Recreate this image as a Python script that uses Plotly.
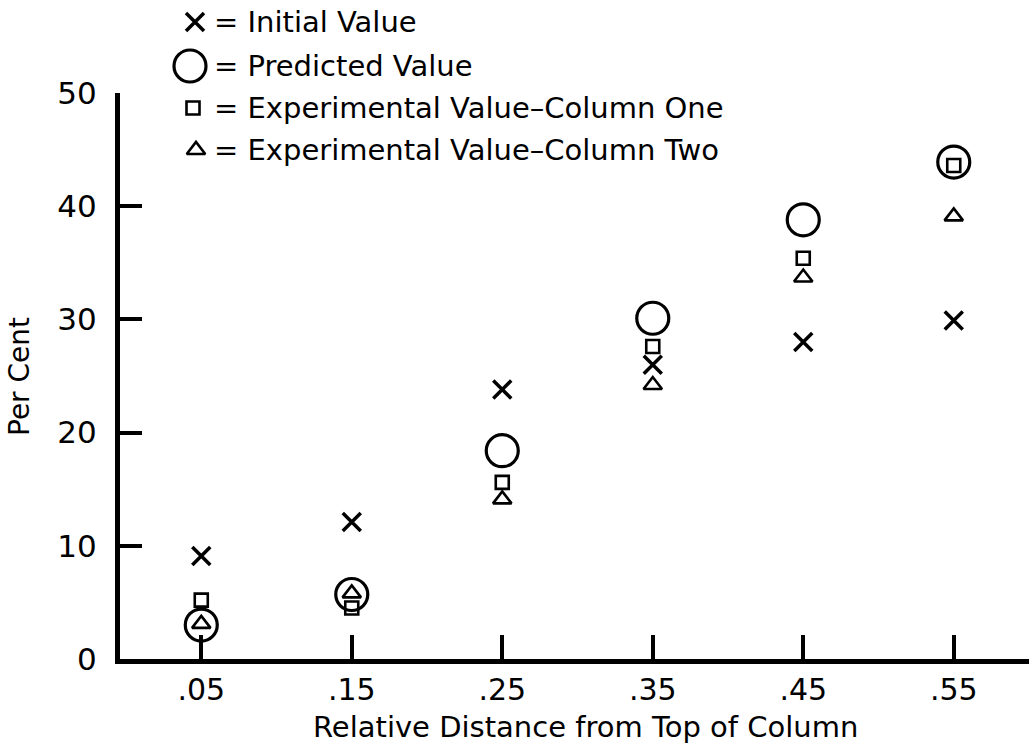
import plotly.graph_objects as go

# Relative distance from top of column and measured percentages
distance = [0.05, 0.15, 0.25, 0.35, 0.45, 0.55]
tick_text = [".05", ".15", ".25", ".35", ".45", ".55"]
initial_value = [9.1, 12.1, 23.8, 26.0, 28.0, 29.9]
predicted_value = [3.0, 5.7, 18.4, 30.1, 38.8, 43.9]
column_one = [5.2, 4.5, 15.6, 27.6, 35.4, 43.6]
column_two = [3.1, 5.8, 14.1, 24.2, 33.7, 39.1]
y_ticks = [0, 10, 20, 30, 40, 50]

FONT = "DejaVu Sans"
INK = "black"
CLEAR = "rgba(0,0,0,0)"

# marker styles shared by the plot and the key
styles = {
    "predicted": dict(symbol="circle-open", size=32, line=dict(width=3.2, color=INK), color=INK),
    "one": dict(symbol="square-open", size=13, line=dict(width=2.6, color=INK), color=INK),
    "two": dict(symbol="triangle-up-open", size=16, line=dict(width=2.6, color=INK), color=INK),
    "initial": dict(symbol="x-thin-open", size=18, line=dict(width=3.5, color=INK), color=INK),
}

fig = go.Figure()
for key, vals in [("predicted", predicted_value), ("one", column_one),
                  ("two", column_two), ("initial", initial_value)]:
    fig.add_trace(go.Scatter(x=distance, y=vals, mode="markers",
                             marker=styles[key], showlegend=False,
                             xaxis="x", yaxis="y", hoverinfo="skip"))

# key in the upper left, laid out on a pixel-like overlay axis
key_labels = ["= Initial Value", "= Predicted Value",
              "= Experimental Value\u2013Column One", "= Experimental Value\u2013Column Two"]
key_styles = ["initial", "predicted", "one", "two"]
key_sym_x = [75, 70, 73, 76]
key_row_y = [22, 66, 108, 150]
key_text_x = 92

for sty, sx, ry in zip(key_styles, key_sym_x, key_row_y):
    fig.add_trace(go.Scatter(x=[sx], y=[ry], mode="markers", marker=styles[sty],
                             showlegend=False, xaxis="x2", yaxis="y2", hoverinfo="skip"))
for lab, ry in zip(key_labels, key_row_y):
    fig.add_annotation(x=key_text_x, y=ry, xref="x2", yref="y2", text=lab,
                       showarrow=False, xanchor="left", yanchor="middle",
                       font=dict(family=FONT, size=29, color=INK))

plot_top = (659 - 93) / 659

fig.update_layout(
    width=1029, height=745,
    margin=dict(l=120, r=0, t=0, b=86, pad=0, autoexpand=False),
    paper_bgcolor="white", plot_bgcolor=CLEAR,
    showlegend=False,
    xaxis=dict(domain=[0, 1], range=[-0.004, 0.6], showgrid=False, zeroline=False,
               showline=True, linewidth=5, linecolor=INK, automargin=False,
               ticks="inside", ticklen=24, tickwidth=4, tickcolor=INK,
               tickvals=distance, ticktext=tick_text, ticklabelstandoff=0,
               tickfont=dict(family=FONT, size=30, color=INK), anchor="y"),
    yaxis=dict(domain=[0, plot_top], range=[0, 50], showgrid=False, zeroline=False,
               showline=True, linewidth=5, linecolor=INK, automargin=False,
               ticks="inside", ticklen=22, tickwidth=4, tickcolor=INK,
               tickvals=y_ticks, ticktext=[str(v) for v in y_ticks], ticklabelstandoff=12,
               tickfont=dict(family=FONT, size=31, color=INK), anchor="x"),
    xaxis2=dict(domain=[0, 1], range=[0, 909], visible=False, anchor="y2",
                fixedrange=True, automargin=False),
    yaxis2=dict(domain=[0, 1], range=[659, 0], visible=False, anchor="x2",
                fixedrange=True, automargin=False),
)

fig.add_annotation(x=(585 - 120) / 909, y=(659 - 727) / 659, xref="paper", yref="paper",
                   text="Relative Distance from Top of Column", showarrow=False,
                   xanchor="center", yanchor="middle",
                   font=dict(family=FONT, size=29, color=INK))
fig.add_annotation(x=(19 - 120) / 909, y=(659 - 377) / 659, xref="paper", yref="paper",
                   text="Per Cent", showarrow=False, textangle=-90,
                   xanchor="center", yanchor="middle",
                   font=dict(family=FONT, size=28, color=INK))

fig.write_html("out.html")
